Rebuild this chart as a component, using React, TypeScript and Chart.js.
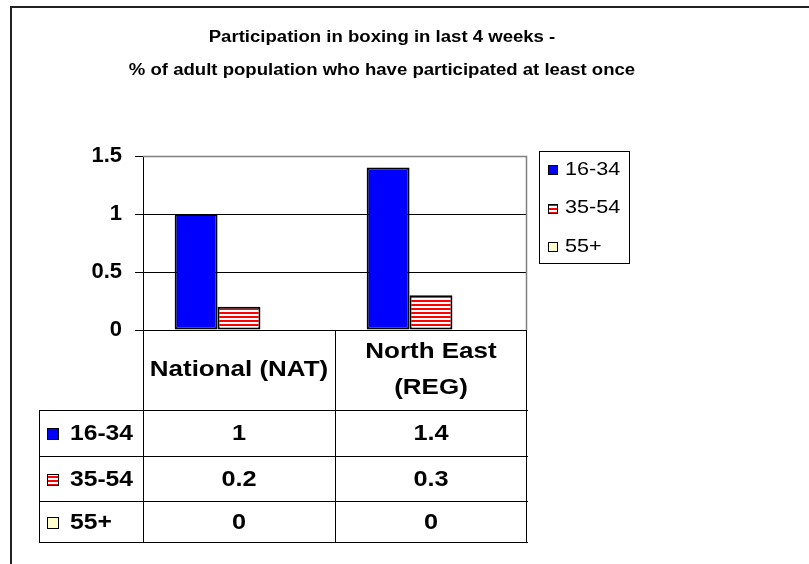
import React, { useEffect, useRef } from "react";
import { Chart, registerables } from "chart.js";

Chart.register(...registerables);

const TITLE_LINES = [
  "Participation in boxing in last 4 weeks -",
  "% of adult population who have participated at least once",
];
const CATEGORIES = [["National (NAT)"], ["North East", "(REG)"]];
const SERIES_LABELS = ["16-34", "35-54", "55+"];
const VALUES_16_34 = [1, 1.4];
const VALUES_35_54 = [0.2, 0.3];
const VALUES_55_PLUS = [0, 0];
const Y_TICKS = [0, 0.5, 1, 1.5];

const FONT = "'Liberation Sans', Arial, sans-serif";

function makeStripePattern(): CanvasPattern | string {
  const c = document.createElement("canvas");
  c.width = 4;
  c.height = 4;
  const g = c.getContext("2d");
  if (!g) return "#FF0000";
  g.fillStyle = "#FFFFFF";
  g.fillRect(0, 0, 4, 4);
  g.fillStyle = "#FF0000";
  g.fillRect(0, 0, 4, 2);
  const p = g.createPattern(c, "repeat");
  return p || "#FF0000";
}

function drawText(
  ctx: CanvasRenderingContext2D,
  text: string,
  x: number,
  y: number,
  font: string,
  align: CanvasTextAlign,
  sx: number
) {
  ctx.save();
  ctx.font = font;
  ctx.fillStyle = "#000";
  ctx.textBaseline = "middle";
  ctx.textAlign = align;
  ctx.translate(x, y);
  ctx.scale(sx, 1);
  ctx.fillText(text, 0, 0);
  ctx.restore();
}

function drawSwatch(ctx: CanvasRenderingContext2D, x: number, y: number, size: number, fill: any) {
  ctx.save();
  ctx.fillStyle = fill;
  ctx.fillRect(x, y, size, size);
  ctx.strokeStyle = "#000";
  ctx.lineWidth = 1;
  ctx.strokeRect(x + 0.5, y + 0.5, size - 1, size - 1);
  ctx.restore();
}

const decorPlugin = {
  id: "decor",
  beforeDraw(chart: any) {
    const ctx = chart.ctx as CanvasRenderingContext2D;
    ctx.save();
    ctx.fillStyle = "#FFFFFF";
    ctx.fillRect(0, 0, chart.width, chart.height);
    ctx.restore();
  },
  afterDraw(chart: any) {
    const ctx = chart.ctx as CanvasRenderingContext2D;
    const area = chart.chartArea;
    const xs = chart.scales.x;
    const datasets = chart.data.datasets;
    const labels = chart.data.labels as string[][];

    // outer frame
    ctx.save();
    ctx.strokeStyle = "#222";
    ctx.lineWidth = 2;
    ctx.beginPath();
    ctx.moveTo(11, chart.height);
    ctx.lineTo(11, 7);
    ctx.lineTo(chart.width, 7);
    ctx.stroke();
    ctx.restore();

    // title
    drawText(ctx, TITLE_LINES[0], 382, 38, `bold 16px ${FONT}`, "center", 1.16);
    drawText(ctx, TITLE_LINES[1], 382, 71, `bold 16px ${FONT}`, "center", 1.16);

    // plot area border (top/right)
    ctx.save();
    ctx.strokeStyle = "#808080";
    ctx.lineWidth = 1.5;
    ctx.beginPath();
    ctx.moveTo(area.left, area.top + 0.5);
    ctx.lineTo(area.right - 0.5, area.top + 0.5);
    ctx.lineTo(area.right - 0.5, area.bottom);
    ctx.stroke();
    ctx.restore();

    // legend
    const lgL = 539, lgT = 151, lgR = 629, lgB = 263;
    ctx.save();
    ctx.strokeStyle = "#000";
    ctx.lineWidth = 1;
    ctx.strokeRect(lgL + 0.5, lgT + 0.5, lgR - lgL, lgB - lgT);
    ctx.restore();
    datasets.forEach((ds: any, i: number) => {
      const cy = 170 + i * 38.5;
      drawSwatch(ctx, 548, Math.round(cy - 5), 10, ds.backgroundColor);
      drawText(ctx, ds.label, 565, cy, `18px ${FONT}`, "left", 1.2);
    });

    // data table
    const n = labels.length;
    const c0 = xs.getPixelForValue(0);
    const c1 = xs.getPixelForValue(1);
    const half = (c1 - c0) / 2;
    const bounds: number[] = [];
    for (let i = 0; i < n; i++) bounds.push(Math.round(xs.getPixelForValue(i) - half));
    bounds.push(Math.round(xs.getPixelForValue(n - 1) + half));
    const tableLeft = 39;
    const headerBottom = 410;
    const rowLines = [headerBottom, 456, 501, 542];
    const tableBottom = rowLines[rowLines.length - 1];

    ctx.save();
    ctx.strokeStyle = "#000";
    ctx.lineWidth = 1;
    ctx.beginPath();
    rowLines.forEach((y) => {
      ctx.moveTo(tableLeft, y + 0.5);
      ctx.lineTo(bounds[n] + 1, y + 0.5);
    });
    ctx.moveTo(tableLeft + 0.5, headerBottom);
    ctx.lineTo(tableLeft + 0.5, tableBottom + 1);
    bounds.forEach((bx, i) => {
      const xx = i === n ? bx - 0.5 : bx + 0.5;
      ctx.moveTo(xx, area.bottom);
      ctx.lineTo(xx, tableBottom + 1);
    });
    ctx.stroke();
    ctx.restore();

    const tfont = `bold 22px ${FONT}`;
    const headerMid = (area.bottom + headerBottom) / 2;
    labels.forEach((lines: string[], i: number) => {
      const cx = xs.getPixelForValue(i);
      const lh = 36;
      const startY = headerMid - ((lines.length - 1) * lh) / 2;
      lines.forEach((ln, j) => drawText(ctx, ln, cx, startY + j * lh, tfont, "center", 1.18));
    });

    datasets.forEach((ds: any, r: number) => {
      const cy = (rowLines[r] + rowLines[r + 1]) / 2 + 1;
      drawSwatch(ctx, 47, Math.round(cy - 6), 12, ds.backgroundColor);
      drawText(ctx, ds.label, 70, cy, tfont, "left", 1.12);
      (ds.data as number[]).forEach((v, i) => {
        drawText(ctx, String(v), xs.getPixelForValue(i), cy, tfont, "center", 1.15);
      });
    });
  },
};

export default function App() {
  const ref = useRef<HTMLCanvasElement | null>(null);

  useEffect(() => {
    const canvas = ref.current;
    if (!canvas) return;
    const stripes = makeStripePattern();
    const common = {
      borderColor: "#000000",
      borderWidth: 2,
      borderSkipped: false as const,
    };
    const chart = new Chart(canvas, {
      type: "bar",
      data: {
        labels: CATEGORIES,
        datasets: [
          { label: SERIES_LABELS[0], data: VALUES_16_34, backgroundColor: "#0000FF", ...common },
          { label: SERIES_LABELS[1], data: VALUES_35_54, backgroundColor: stripes as any, ...common },
          { label: SERIES_LABELS[2], data: VALUES_55_PLUS, backgroundColor: "#FFFFCC", ...common },
        ],
      },
      options: {
        responsive: false,
        animation: false,
        devicePixelRatio: 1,
        layout: { padding: { left: 0, top: 156, right: 282, bottom: 234 } },
        datasets: { bar: { categoryPercentage: 0.67, barPercentage: 1 } },
        plugins: {
          legend: { display: false },
          title: { display: false },
          tooltip: { enabled: false },
        },
        scales: {
          x: { display: false },
          y: {
            min: 0,
            max: 1.5,
            afterBuildTicks: (s: any) => {
              s.ticks = Y_TICKS.map((v) => ({ value: v }));
            },
            afterFit: (s: any) => {
              s.width = 143;
            },
            ticks: {
              color: "#000",
              padding: 13,
              font: { family: FONT, size: 22, weight: "bold" },
              callback: (v: any) => String(v),
            },
            grid: { color: "#000", lineWidth: 1, tickLength: 8 },
            border: { color: "#000", width: 1 },
          },
        },
      },
      plugins: [decorPlugin],
    } as any);
    return () => chart.destroy();
  }, []);

  return (
    <div style={{ position: "absolute", left: 0, top: 0, width: 809, height: 564 }}>
      <canvas ref={ref} width={809} height={564} style={{ display: "block" }} />
    </div>
  );
}
